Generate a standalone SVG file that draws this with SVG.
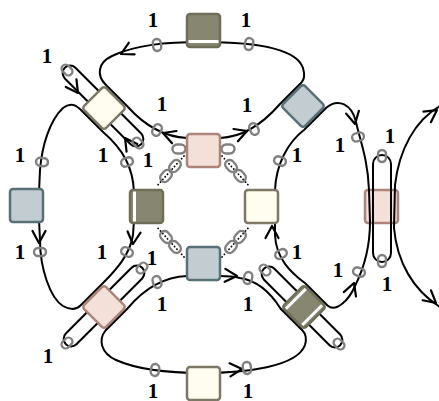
<svg xmlns="http://www.w3.org/2000/svg" width="439" height="401" viewBox="0 0 439 401">
<style>
.e{fill:none;stroke:#000;stroke-width:2}
.a{fill:none;stroke:#000;stroke-width:2.2;stroke-linecap:round;stroke-linejoin:round}
.r{fill:none;stroke:#808080;stroke-width:2.4}
.d{fill:none;stroke:#000;stroke-width:1.8;stroke-dasharray:0.1 3.4;stroke-linecap:round}
.l{font-family:"Liberation Serif","Times New Roman",serif;font-weight:bold;font-size:21px;text-anchor:middle;fill:#000}
.ol{fill:#868671;stroke:#6d6d58;stroke-width:2.5}
.cr{fill:#fffcf0;stroke:#7d7866;stroke-width:2.5}
.pk{fill:#f3e0d8;stroke:#ad8479;stroke-width:2.5}
.bl{fill:#c3cdd1;stroke:#587076;stroke-width:2.5}
.w{stroke:#fff;stroke-width:3}
</style>
<defs>
<path id="ah" d="M-12,-6.5 L0,0 L-12,6.5"/>
<rect id="rg" x="-4" y="-6" width="8" height="12" rx="4"/>
<rect id="lk" x="-6.5" y="-4.5" width="13" height="9" rx="4.5"/>
<rect id="sq" x="-16.5" y="-16.5" width="33" height="33" rx="3"/>
<rect id="dm" x="-15.5" y="-15.5" width="31" height="31" rx="3"/>
</defs>

<g id="n-right"><use href="#sq" class="pk" transform="translate(381.5,206.5)"/></g>

<g id="connectors">
<path class="e" d="M187,138 C165,137 145,126 127.5,106.5 L105.5,84.5 C97,76 97,63 112,56 C135,45 165,42 203,42 C250,42 296,47 303,68 C305,75 304,80 301.5,82.5 L279.5,104.5 C266,120 245,137 220,138 Z"/>
<path class="e" d="M187,276 C162,277 143,290 127.5,308.5 L105.5,330.5 C98,340 101,353 116,360 C136,369 165,373 203,373 C245,373 297,367 305,345 C307,338 305,333 302.5,330.5 L280.5,308.5 C272,295 260,281 240,278 C232,276 226,276 220,276 Z"/>
<path class="e" d="M134,192 C133,168 124,150 102.5,131.5 L80.5,109.5 C75,104 69,103 63,108 C50,120 42,145 40,170 L39,192"/>
<path class="e" d="M39,220 L40,240 C40,268 50,298 63,306 C70,310 76,310 80.5,305.5 L102.5,283.5 C115,271 130,255 133,235 L134,220"/>
<path class="e" d="M275,190 C276,165 287,143 304.5,129.5 L326.5,107.5 C338,98 352,104 356,122 C360,140 368,160 369,190 L370,222 C370,248 363,270 355,286 C349,300 336,313 327.5,305.5 L305.5,283.5 C290,272 276,258 275,235 Z"/>
<path class="e" d="M440,106 C415,120 399,150 395,185 L394,228 C397,262 413,290 440,307"/>
<rect class="e" x="-54" y="-7.5" width="108" height="15" rx="7.5" transform="translate(103,106) rotate(45)"/>
<rect class="e" x="-54" y="-7.5" width="108" height="15" rx="7.5" transform="translate(104,306) rotate(-45)"/>
<rect class="e" x="-54" y="-7.5" width="108" height="15" rx="7.5" transform="translate(302,307) rotate(45)"/>
<rect class="e" x="373" y="155" width="18" height="107" rx="9"/>

<path class="d" d="M184,156 L156,187"/>
<path class="d" d="M222,156 L250,187"/>
<path class="d" d="M184,257 L156,226"/>
<path class="d" d="M222,257 L250,226"/>
<g class="r">
<use href="#lk" transform="translate(175,166) rotate(132)"/>
<use href="#lk" transform="translate(166,176) rotate(132)"/>
<use href="#lk" transform="translate(231,166) rotate(48)"/>
<use href="#lk" transform="translate(240,176) rotate(48)"/>
<use href="#lk" transform="translate(175,247) rotate(48)"/>
<use href="#lk" transform="translate(166,237) rotate(48)"/>
<use href="#lk" transform="translate(231,247) rotate(132)"/>
<use href="#lk" transform="translate(240,237) rotate(132)"/>
<use href="#lk" transform="translate(179,149)"/>
<use href="#lk" transform="translate(228,149)"/>
</g>

<g class="a">
<use href="#ah" transform="translate(121,54) rotate(153)"/>
<use href="#ah" transform="translate(163,133) rotate(-160)"/>
<use href="#ah" transform="translate(247,131) rotate(-20)"/>
<use href="#ah" transform="translate(78,93) rotate(55)"/>
<use href="#ah" transform="translate(125,138) rotate(-125)"/>
<use href="#ah" transform="translate(39,243) rotate(90)"/>
<use href="#ah" transform="translate(133,244) rotate(95)"/>
<use href="#ah" transform="translate(237,276) rotate(3)"/>
<use href="#ah" transform="translate(242,369) rotate(-4)"/>
<use href="#ah" transform="translate(272,226) rotate(-90)"/>
<use href="#ah" transform="translate(355,124) rotate(78)"/>
<use href="#ah" transform="translate(354,283) rotate(-70)"/>
<use href="#ah" transform="translate(437,110) rotate(-35)"/>
<use href="#ah" transform="translate(436,303) rotate(40)"/>
</g>

<g class="r">
<use href="#rg" transform="translate(157,45) rotate(-8)"/>
<use href="#rg" transform="translate(249,44) rotate(10)"/>
<use href="#rg" transform="translate(67,70) rotate(-45)"/>
<use href="#rg" transform="translate(138,143) rotate(-45)"/>
<use href="#rg" transform="translate(157,130) rotate(25)"/>
<use href="#rg" transform="translate(254,129) rotate(-25)"/>
<use href="#rg" transform="translate(42,162) rotate(97)"/>
<use href="#rg" transform="translate(127,162) rotate(70)"/>
<use href="#rg" transform="translate(280,161) rotate(110)"/>
<use href="#rg" transform="translate(358,137) rotate(75)"/>
<use href="#rg" transform="translate(382,156)"/>
<use href="#rg" transform="translate(40,252) rotate(90)"/>
<use href="#rg" transform="translate(127,252) rotate(115)"/>
<use href="#rg" transform="translate(142,268) rotate(45)"/>
<use href="#rg" transform="translate(157,282) rotate(-15)"/>
<use href="#rg" transform="translate(67,343) rotate(45)"/>
<use href="#rg" transform="translate(155,370) rotate(8)"/>
<use href="#rg" transform="translate(281,254) rotate(62)"/>
<use href="#rg" transform="translate(265,270) rotate(-45)"/>
<use href="#rg" transform="translate(248,278) rotate(12)"/>
<use href="#rg" transform="translate(359,272) rotate(110)"/>
<use href="#rg" transform="translate(382,261)"/>
<use href="#rg" transform="translate(339,344) rotate(-45)"/>
<use href="#rg" transform="translate(247,368) rotate(-8)"/>
</g>
</g>

<g id="n-top"><use href="#sq" class="ol" transform="translate(203.5,30.5)"/><line class="w" x1="188.5" y1="41.5" x2="218.5" y2="41.5"/></g>
<g id="n-tl"><use href="#dm" class="cr" transform="translate(104,108) rotate(45)"/></g>
<g id="n-tr"><use href="#dm" class="bl" transform="translate(303,106) rotate(45)"/></g>
<g id="n-left"><use href="#sq" class="bl" transform="translate(26.5,205.5)"/></g>
<g id="n-cl"><use href="#sq" class="ol" transform="translate(146.5,206.5)"/><line class="w" x1="134.5" y1="191.5" x2="134.5" y2="221.5"/></g>
<g id="n-ct"><use href="#sq" class="pk" transform="translate(203.5,150.5)"/></g>
<g id="n-cr"><use href="#sq" class="cr" transform="translate(261.5,206.5)"/></g>
<g id="n-cb"><use href="#sq" class="bl" transform="translate(203.5,263.5)"/></g>
<g id="n-bl"><use href="#dm" class="pk" transform="translate(104,307) rotate(45)"/></g>
<g id="n-br"><use href="#dm" class="ol" transform="translate(304,307) rotate(45)"/><g transform="translate(304,307) rotate(45)"><line class="w" x1="-11.5" y1="-14" x2="-11.5" y2="14"/><line class="w" x1="11.5" y1="-14" x2="11.5" y2="14"/></g></g>
<g id="n-bot"><use href="#sq" class="cr" transform="translate(203.5,383.5)"/></g>

<g id="labels" class="l">
<text x="153" y="27">1</text>
<text x="246" y="27">1</text>
<text x="47" y="63">1</text>
<text x="162" y="111">1</text>
<text x="247" y="112">1</text>
<text x="20" y="162">1</text>
<text x="103" y="162">1</text>
<text x="148" y="167">1</text>
<text x="297" y="162">1</text>
<text x="340" y="152">1</text>
<text x="390" y="143">1</text>
<text x="20" y="259">1</text>
<text x="102" y="259">1</text>
<text x="152" y="265">1</text>
<text x="162" y="311">1</text>
<text x="297" y="259">1</text>
<text x="338" y="277">1</text>
<text x="248" y="311">1</text>
<text x="387" y="291">1</text>
<text x="48" y="363">1</text>
<text x="153" y="397.5">1</text>
<text x="248" y="397.5">1</text>
</g>
</svg>
